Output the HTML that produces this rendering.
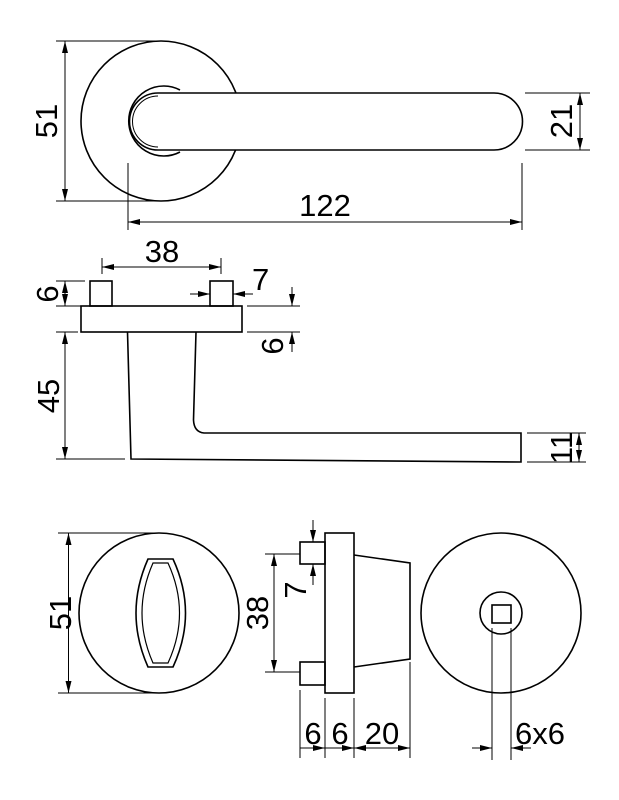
<!DOCTYPE html>
<html><head><meta charset="utf-8"><style>
html,body{margin:0;padding:0;background:#fff;}
svg{display:block;}
text{font-family:"Liberation Sans",sans-serif;font-size:31px;fill:#000;}
</style></head><body>
<svg width="619" height="800" viewBox="0 0 619 800" xmlns="http://www.w3.org/2000/svg">
<defs>
<marker id="a" viewBox="0 0 12 6" refX="12" refY="3" markerWidth="12" markerHeight="6" markerUnits="userSpaceOnUse" orient="auto-start-reverse"><path d="M0,0 L12,3 L0,6 Z" fill="#000"/></marker>
</defs>
<g fill="none" stroke="#000" stroke-width="1.6">
<!-- TOP VIEW -->
<circle cx="161" cy="121" r="80" fill="#fff"/>
<path d="M180,90 A35,35 0 1 0 180,152"/>
<path d="M158,93 L494,93 A28.5,28.5 0 0 1 494,150 L158,150 A28.5,28.5 0 0 1 158,93 Z" fill="#fff"/>
<path d="M158,96 A25.5,25.5 0 0 0 158,147" stroke-width="1"/>
</g>
<g stroke="#000" stroke-width="1" fill="none">
<line x1="56" y1="41" x2="161" y2="41"/><line x1="56" y1="201" x2="161" y2="201"/>
<line x1="65" y1="41" x2="65" y2="201" marker-start="url(#a)" marker-end="url(#a)"/>
<line x1="128" y1="163" x2="128" y2="230"/><line x1="522" y1="163" x2="522" y2="230"/>
<line x1="128" y1="222" x2="522" y2="222" marker-start="url(#a)" marker-end="url(#a)"/>
<line x1="525" y1="93" x2="590" y2="93"/><line x1="525" y1="150" x2="590" y2="150"/>
<line x1="580" y1="93" x2="580" y2="150" marker-start="url(#a)" marker-end="url(#a)"/>
</g>
<text x="325" y="216" text-anchor="middle">122</text>
<text transform="translate(57,121) rotate(-90)" text-anchor="middle">51</text>
<text transform="translate(572,121) rotate(-90)" text-anchor="middle">21</text>

<!-- MIDDLE VIEW -->
<g fill="none" stroke="#000" stroke-width="1.6">
<rect x="81" y="306" width="161" height="26"/>
<rect x="90" y="281" width="22" height="25"/>
<rect x="210" y="281" width="23" height="25"/>
<path d="M127.5,332 L131,459 L521,462 L521,433 L204,433 Q194,432 193.5,420 L196,332"/>
</g>
<g stroke="#000" stroke-width="1" fill="none">
<line x1="102" y1="258" x2="102" y2="274"/><line x1="221" y1="258" x2="221" y2="274"/>
<line x1="102" y1="267" x2="221" y2="267" marker-start="url(#a)" marker-end="url(#a)"/>
<line x1="190" y1="294" x2="210" y2="294" marker-end="url(#a)"/>
<line x1="253" y1="294" x2="233" y2="294" marker-end="url(#a)"/>
<line x1="56" y1="281" x2="85" y2="281"/><line x1="56" y1="306" x2="81" y2="306"/>
<line x1="65" y1="281" x2="65" y2="306" marker-start="url(#a)" marker-end="url(#a)"/>
<line x1="247" y1="306" x2="300" y2="306"/><line x1="247" y1="332" x2="300" y2="332"/>
<line x1="292" y1="287" x2="292" y2="306" marker-end="url(#a)"/>
<line x1="292" y1="352" x2="292" y2="332" marker-end="url(#a)"/>
<line x1="56" y1="332" x2="78" y2="332"/><line x1="56" y1="459" x2="125" y2="459"/>
<line x1="65" y1="332" x2="65" y2="459" marker-start="url(#a)" marker-end="url(#a)"/>
<line x1="527" y1="433" x2="586" y2="433"/><line x1="527" y1="462" x2="586" y2="462"/>
<line x1="579" y1="433" x2="579" y2="462" marker-start="url(#a)" marker-end="url(#a)"/>
</g>
<text x="162" y="262" text-anchor="middle">38</text>
<text x="252" y="290">7</text>
<text transform="translate(58,294) rotate(-90)" text-anchor="middle">6</text>
<text transform="translate(283,346) rotate(-90)" text-anchor="middle">6</text>
<text transform="translate(59,396) rotate(-90)" text-anchor="middle">45</text>
<text transform="translate(572,448) rotate(-90)" text-anchor="middle">11</text>

<!-- BOTTOM VIEWS -->
<g fill="none" stroke="#000" stroke-width="1.6">
<circle cx="159" cy="613" r="80"/>
<path d="M148,559 L173,559 Q198,613 173,667 L148,667 Q124,613 148,559 Z"/>
<path d="M153,563 L168,563 Q191,613 168,663 L153,663 Q131,613 153,563 Z" stroke-width="1.2"/>
<rect x="325" y="533" width="29" height="160"/>
<rect x="300" y="542" width="25" height="22"/>
<rect x="300" y="662" width="25" height="23"/>
<path d="M354,555 L410,563 L410,659 L354,667"/>
<circle cx="501" cy="613" r="80"/>
<circle cx="501" cy="613" r="21"/>
<rect x="492" y="605" width="19" height="18"/>
</g>
<g stroke="#000" stroke-width="1" fill="none">
<line x1="58" y1="533" x2="159" y2="533"/><line x1="58" y1="693" x2="159" y2="693"/>
<line x1="68.5" y1="533" x2="68.5" y2="693" marker-start="url(#a)" marker-end="url(#a)"/>
<line x1="313" y1="520" x2="313" y2="542" marker-end="url(#a)"/>
<line x1="313" y1="585" x2="313" y2="564" marker-end="url(#a)"/>
<line x1="265" y1="554" x2="300" y2="554"/><line x1="265" y1="672" x2="300" y2="672"/>
<line x1="274" y1="554" x2="274" y2="672" marker-start="url(#a)" marker-end="url(#a)"/>
<line x1="300" y1="690" x2="300" y2="758"/><line x1="325" y1="698" x2="325" y2="758"/>
<line x1="354" y1="698" x2="354" y2="758"/><line x1="410" y1="662" x2="410" y2="758"/>
<line x1="300" y1="748" x2="325" y2="748" marker-end="url(#a)"/>
<line x1="325" y1="748" x2="354" y2="748" marker-end="url(#a)"/>
<line x1="354" y1="748" x2="410" y2="748" marker-start="url(#a)" marker-end="url(#a)"/>
<line x1="492" y1="628" x2="492" y2="760"/><line x1="511" y1="628" x2="511" y2="760"/>
<line x1="472" y1="748" x2="492" y2="748" marker-end="url(#a)"/>
<line x1="531" y1="748" x2="511" y2="748" marker-end="url(#a)"/>
</g>
<text transform="translate(71,613) rotate(-90)" text-anchor="middle">51</text>
<text transform="translate(268,613) rotate(-90)" text-anchor="middle">38</text>
<text transform="translate(306,590) rotate(-90)" text-anchor="middle">7</text>
<text x="313" y="744" text-anchor="middle">6</text>
<text x="340" y="744" text-anchor="middle">6</text>
<text x="382" y="744" text-anchor="middle">20</text>
<text x="515" y="744">6x6</text>
</svg>
</body></html>
